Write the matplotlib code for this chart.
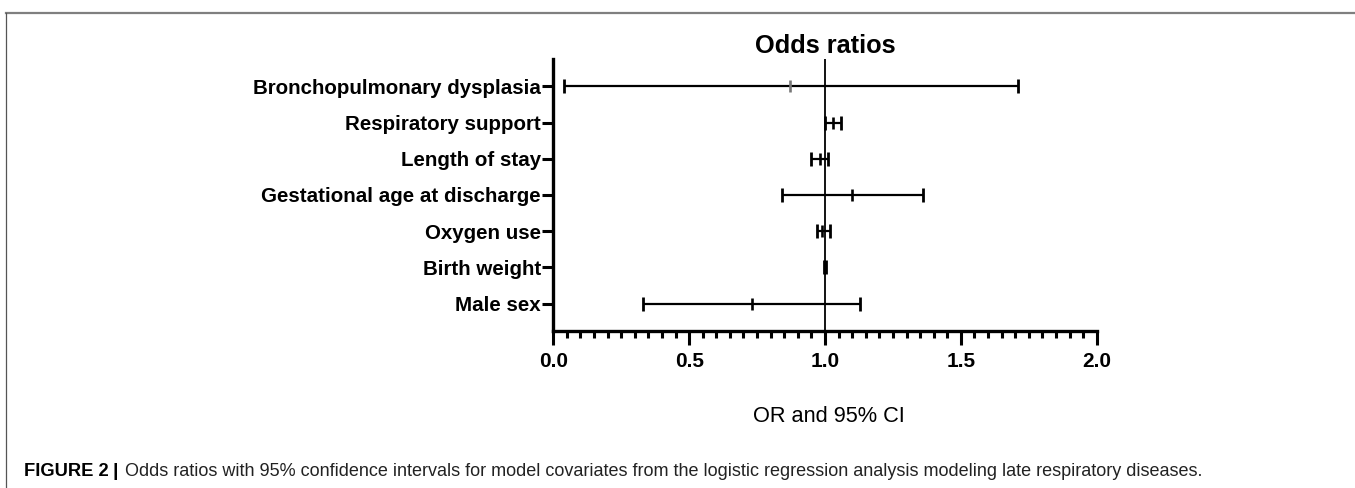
import matplotlib
matplotlib.use("Agg")
import matplotlib.pyplot as plt
from matplotlib.lines import Line2D
from matplotlib.ticker import MultipleLocator

categories = ["Male sex", "Birth weight", "Oxygen use", "Gestational age at discharge",
              "Length of stay", "Respiratory support", "Bronchopulmonary dysplasia"]
odds = [0.73, 1.00, 0.99, 1.10, 0.98, 1.03, 0.87]
ci_low = [0.33, 0.998, 0.97, 0.84, 0.95, 1.00, 0.04]
ci_high = [1.13, 1.004, 1.02, 1.36, 1.01, 1.06, 1.71]
center_colors = ["black", "black", "black", "black", "black", "black", "#777777"]
xticks = [0.0, 0.5, 1.0, 1.5, 2.0]
xticklabels = ["0.0", "0.5", "1.0", "1.5", "2.0"]

plt.rcParams['font.family'] = ['Liberation Sans', 'DejaVu Sans']

W, H = 1355, 488
fig = plt.figure(figsize=(W / 100, H / 100), dpi=100)
ax = fig.add_axes([553.3 / W, (H - 331) / H, (1096.7 - 553.3) / W, (331 - 59) / H])

ypos = list(range(len(categories)))
for y, m, lo, hi, c in zip(ypos, odds, ci_low, ci_high, center_colors):
    ax.errorbar([m], [y], xerr=[[m - lo], [hi - m]], fmt='none', ecolor='black',
                elinewidth=1.6, capsize=5.2, capthick=2.0, zorder=3)
    ax.plot([m], [y], marker='|', markersize=8, markeredgewidth=1.9, color=c, zorder=4)

ax.axvline(1.0, color='black', linewidth=1.3, zorder=2)

ax.set_xlim(0, 2.0)
ax.set_ylim(-0.76, len(categories) - 1 + 0.76)
ax.set_yticks(ypos)
ax.set_yticklabels(categories, fontsize=14.8, fontweight='bold')
ax.set_xticks(xticks)
ax.set_xticklabels(xticklabels, fontsize=15, fontweight='bold')
ax.xaxis.set_minor_locator(MultipleLocator(0.05))

for s in ['top', 'right']:
    ax.spines[s].set_visible(False)
ax.spines['left'].set_linewidth(2.4)
ax.spines['bottom'].set_linewidth(2.4)
ax.spines['bottom'].set_capstyle('projecting')
ax.tick_params(axis='y', which='major', length=8, width=2.2, pad=1)
ax.tick_params(axis='x', which='major', length=10, width=2.2, pad=5)
ax.tick_params(axis='x', which='minor', length=5, width=2.2)

ax.set_title("Odds ratios", fontsize=18.3, fontweight='bold', pad=4)
fig.text(829 / W, 1 - 417 / H, "OR and 95% CI", fontsize=15.7, ha='center', va='center')

fig.text(24 / W, 1 - 472 / H, "FIGURE 2", fontsize=13.2, fontweight='bold',
         ha='left', va='center')
fig.text(112 / W, 1 - 471 / H, "|", fontsize=14, fontweight='bold',
         ha='left', va='center')
fig.text(125 / W, 1 - 472 / H,
         "Odds ratios with 95% confidence intervals for model covariates from the logistic "
         "regression analysis modeling late respiratory diseases.",
         fontsize=12.95, ha='left', va='center', color='#222222')

# frame lines
fig.add_artist(Line2D([6 / W, 1.0], [1 - 12.5 / H, 1 - 12.5 / H], color='#7f7f7f',
                      linewidth=1.6, transform=fig.transFigure))
fig.add_artist(Line2D([6 / W, 6 / W], [0, 1 - 12.5 / H], color='#555555',
                      linewidth=0.9, transform=fig.transFigure))

fig.savefig("out.png", dpi=100)
